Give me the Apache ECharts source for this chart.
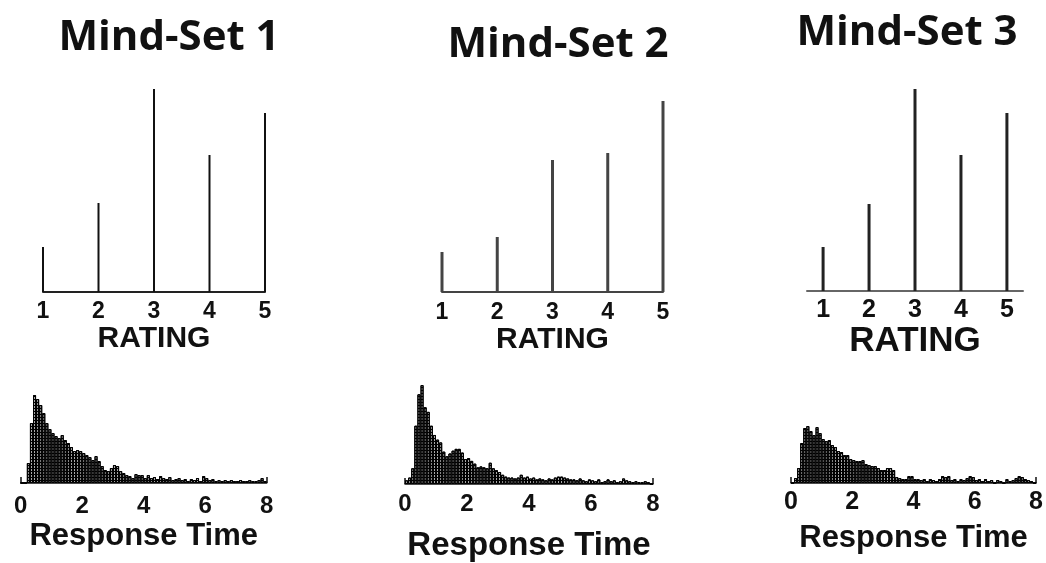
<!DOCTYPE html>
<html>
<head>
<meta charset="utf-8">
<title>Mind-Set ratings and response times</title>
<script src="https://cdn.jsdelivr.net/npm/echarts@6/dist/echarts.min.js"></script>
<style>
  html, body { margin: 0; padding: 0; background: #fff; }
  #chart { width: 1046px; height: 563px; }
</style>
</head>
<body>
<div id="chart"></div>
<script>
// rating categories and stick heights (arbitrary units)
const ratingCats = [1, 2, 3, 4, 5];
const rating1 = [45, 89, 203, 137, 179];
const rating2 = [40, 55, 132, 139, 191];
const rating3 = [44, 87, 202, 136, 178];

// response time histograms, bins of 0.1 from 0 to 8
const rtTicks = [0, 2, 4, 6, 8];
const rtBins = Array.from({ length: 80 }, (_, i) => (i / 10).toFixed(1));
const rt1 = [
  0, 0, 20, 60, 88, 84, 78, 70, 60, 54,
  50, 47, 45, 48, 43, 40, 36, 32, 33, 32,
  30, 28, 26, 23, 27, 22, 17, 13, 12, 15,
  18, 17, 12, 10, 8, 7, 5, 9, 8, 8,
  5, 8, 5, 6, 4, 7, 5, 4, 6, 3,
  4, 5, 3, 4, 2, 4, 3, 5, 2, 7,
  5, 3, 4, 2, 3, 2, 3, 2, 3, 2,
  2, 3, 2, 2, 3, 2, 2, 3, 5, 2
];
const rt2 = [
  4, 7, 17, 63, 97, 107, 83, 78, 63, 53,
  48, 45, 35, 30, 33, 36, 38, 38, 34, 27,
  28, 25, 22, 18, 19, 18, 17, 23, 17, 15,
  13, 10, 8, 7, 7, 6, 7, 10, 7, 8,
  6, 7, 5, 6, 5, 4, 6, 5, 7, 8,
  8, 7, 6, 5, 5, 4, 6, 4, 3, 5,
  4, 3, 5, 2, 3, 5, 3, 4, 2, 3,
  6, 4, 3, 2, 3, 2, 2, 3, 2, 0
];
const rt3 = [
  0, 5, 15, 40, 55, 57, 52, 48, 56, 50,
  44, 42, 43, 38, 36, 32, 31, 28, 28, 24,
  23, 22, 22, 23, 19, 18, 17, 17, 15, 13,
  13, 15, 15, 13, 6, 5, 4, 4, 7, 7,
  4, 4, 3, 4, 2, 4, 3, 2, 4, 7,
  6, 7, 3, 4, 2, 4, 3, 5, 7, 6,
  3, 4, 2, 4, 2, 3, 0, 3, 2, 0,
  4, 2, 3, 5, 7, 6, 4, 3, 2, 0
];

const titles = ["Mind-Set 1", "Mind-Set 2", "Mind-Set 3"];

const chart = echarts.init(document.getElementById("chart"));

const labelFont = { fontFamily: "Liberation Sans", fontWeight: "bold", color: "#111" };

// rating x axis (value axis so the line can run past 1 and 5)
function ratingAxis(grid, min, max, size, margin, nameSize, nameGap, lineColor) {
  return {
    type: "value", gridIndex: grid, min: min, max: max,
    axisLine: { show: true, lineStyle: { color: lineColor, width: 2 } },
    axisTick: { show: false },
    splitLine: { show: false },
    axisLabel: Object.assign({ customValues: ratingCats, fontSize: size, margin: margin }, labelFont),
    name: "RATING", nameLocation: "middle", nameGap: nameGap,
    nameTextStyle: Object.assign({ fontSize: nameSize }, labelFont)
  };
}

// response time value axis (visible) + hidden bin axis for the bars
function rtAxis(grid, size, margin, nameSize, nameGap) {
  return {
    type: "value", gridIndex: grid, min: 0, max: 8, interval: 2,
    axisLine: { show: true, lineStyle: { color: "#111", width: 1.5 } },
    axisTick: { show: true, customValues: [0, 8], inside: true, length: 6, lineStyle: { color: "#111", width: 1.5 } },
    splitLine: { show: false },
    axisLabel: Object.assign({ customValues: rtTicks, fontSize: size, margin: margin }, labelFont),
    name: "Response Time", nameLocation: "middle", nameGap: nameGap,
    nameTextStyle: Object.assign({ fontSize: nameSize }, labelFont)
  };
}
function binAxis(grid) {
  return { type: "category", gridIndex: grid, data: rtBins, show: false, boundaryGap: true };
}
function hiddenY(grid, max) {
  return { type: "value", gridIndex: grid, min: 0, max: max, show: false };
}

function sticks(xi, yi, data, color, width) {
  return {
    type: "bar", xAxisIndex: xi, yAxisIndex: yi, barWidth: width,
    data: ratingCats.map((c, i) => [c, data[i]]),
    itemStyle: { color: color },
    silent: true
  };
}
function histo(xi, yi, data) {
  return {
    type: "bar", xAxisIndex: xi, yAxisIndex: yi,
    barCategoryGap: 0, data: data, silent: true,
    itemStyle: {
      color: "#a8a8a8", borderColor: "#000", borderWidth: 1,
      decal: { symbol: "rect", symbolSize: 1, color: "#000", dashArrayX: [1, 0], dashArrayY: [1, 2], rotation: 0 }
    }
  };
}

const titleStyle = { fontFamily: "Open Sans", fontWeight: "bold", fontSize: 42, color: "#111" };

chart.setOption({
  animation: false,
  backgroundColor: "#fff",
  title: [
    { text: titles[0], left: 164, top: 12, textAlign: "center", textStyle: titleStyle },
    { text: titles[1], left: 553, top: 19, textAlign: "center", textStyle: titleStyle },
    { text: titles[2], left: 902, top: 7, textAlign: "center", textStyle: titleStyle }
  ],
  grid: [
    { left: 43, top: 82, width: 222, height: 210 },
    { left: 442, top: 82, width: 221, height: 210 },
    { left: 807, top: 81, width: 216, height: 210 },
    { left: 20.7, top: 363, width: 246, height: 120 },
    { left: 405, top: 373, width: 248, height: 120 },
    { left: 791, top: 363, width: 250, height: 120 }
  ],
  xAxis: [
    ratingAxis(0, 1, 5, 23, 8, 30, 25, "#222"),
    ratingAxis(1, 1, 5, 23, 9, 30, 30, "#444"),
    ratingAxis(2, 0.65, 5.35, 25, 7, 35, 30, "#666"),
    rtAxis(3, 24, 11, 31, 38),
    rtAxis(4, 24, 8, 33, 45),
    rtAxis(5, 25, 7, 31, 40),
    binAxis(3),
    binAxis(4),
    binAxis(5)
  ],
  yAxis: [
    hiddenY(0, 210), hiddenY(1, 210), hiddenY(2, 210),
    hiddenY(3, 120), hiddenY(4, 120), hiddenY(5, 120)
  ],
  series: [
    sticks(0, 0, rating1, "#111", 2),
    sticks(1, 1, rating2, "#444", 3),
    sticks(2, 2, rating3, "#222", 3),
    histo(6, 3, rt1),
    histo(7, 4, rt2),
    histo(8, 5, rt3)
  ]
});
</script>
</body>
</html>
